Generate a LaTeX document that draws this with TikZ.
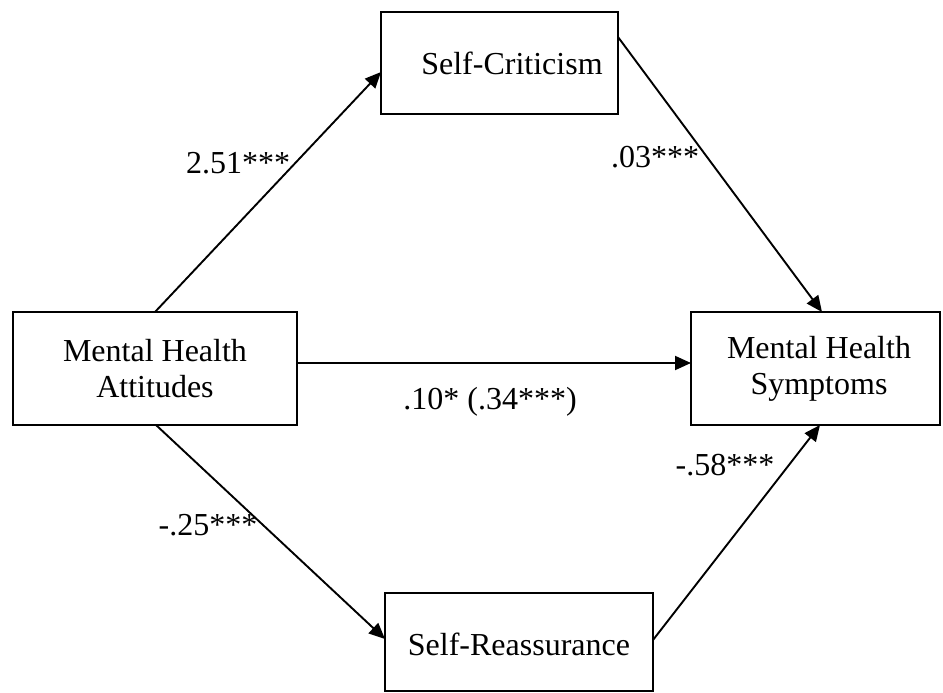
\documentclass[tikz,border=0pt]{standalone}
\usepackage{fontspec}
\setmainfont{Liberation Serif}
\usetikzlibrary{arrows.meta}
\begin{document}
\begin{tikzpicture}[x=1pt,y=-1pt,
  box/.style={draw,line width=2pt,rectangle,inner sep=0pt},
  txt/.style={font=\fontsize{32}{36}\selectfont,align=center,inner sep=0pt},
  lbl/.style={font=\fontsize{32}{36}\selectfont,inner sep=0pt},
  arr/.style={line width=1.9pt,-{Triangle[length=16pt,width=14pt]}}]
\useasboundingbox (0,0) rectangle (943,693);
% boxes
\node[box,minimum width=284pt,minimum height=113pt] (att) at (155,368.5) {};
\node[txt] (atttext) at (155,368.5) {Mental Health\\Attitudes};
\node[box,minimum width=249pt,minimum height=113pt] (sym) at (815.5,368.5) {};
\node[txt] (symtext) at (819,368.5) {Mental Health\\Symptoms};
\node[box,minimum width=237pt,minimum height=102pt] (sc) at (499.5,63) {};
\node[txt] (sctext) at (512,63) {Self-Criticism};
\node[box,minimum width=268pt,minimum height=98pt] (sr) at (519,642) {};
\node[txt] (srtext) at (519,644) {Self-Reassurance};
% connectors
\coordinate (a1) at (155,312);
\coordinate (a2) at (156,425);
\coordinate (a3) at (297,363);
\coordinate (s1) at (691,363);
\coordinate (s2) at (822,312);
\coordinate (s3) at (820,425);
\coordinate (c1) at (381,72);
\coordinate (c2) at (618,37);
\coordinate (r1) at (385,639);
\coordinate (r2) at (653,640);
\draw[arr] (a1) -- (c1);
\draw[arr] (a2) -- (r1);
\draw[arr] (a3) -- (s1);
\draw[arr] (c2) -- (s2);
\draw[arr] (r2) -- (s3);
% labels
\node[lbl] (l1) at (238,163) {2.51***};
\node[lbl] (l2) at (655,157) {.03***};
\node[lbl] (l3) at (490,402) {.10* (.34***)};
\node[lbl] (l4) at (208,525) {-.25***};
\node[lbl] (l5) at (725,465) {-.58***};
\end{tikzpicture}
\end{document}
